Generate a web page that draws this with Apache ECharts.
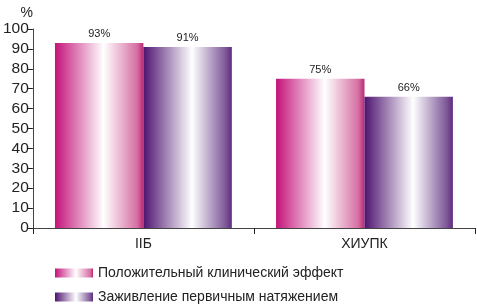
<!DOCTYPE html>
<html>
<head>
<meta charset="utf-8">
<script src="https://cdn.jsdelivr.net/npm/echarts@6/dist/echarts.min.js"></script>
<style>
  html, body { margin: 0; padding: 0; background: #fff; }
  #chart { width: 477px; height: 307px; }
</style>
</head>
<body>
<div id="chart"></div>
<script>
  // data
  var categories = ["ІІБ", "ХИУПК"];
  var seriesNames = ["Положительный клинический эффект", "Заживление первичным натяжением"];
  var clinical = [93, 75];
  var healing = [91, 66];

  var font = "Liberation Sans, Arial, sans-serif";

  function grad(left, mid, right, edge) {
    return new echarts.graphic.LinearGradient(0, 0, 1, 0, [
      { offset: 0, color: left },
      { offset: 0.55, color: mid },
      { offset: 0.93, color: right },
      { offset: 1, color: edge },
    ]);
  }

  function legendRow(name, top) {
    return {
      left: 55,
      top: top,
      icon: "rect",
      itemWidth: 38,
      itemHeight: 9,
      itemGap: 0,
      padding: 0,
      textStyle: { fontSize: 14, color: "#222", fontFamily: font },
      data: [name],
    };
  }

  var chart = echarts.init(document.getElementById("chart"));
  var option = {
    animation: false,
    textStyle: { fontFamily: font },
    grid: { left: 32, right: 2, top: 29, bottom: 79, containLabel: false },
    legend: [legendRow(seriesNames[0], 266), legendRow(seriesNames[1], 290)],
    xAxis: {
      type: "category",
      data: categories,
      axisLine: { lineStyle: { color: "#444", width: 1 } },
      axisTick: { show: true, length: 6, lineStyle: { color: "#222" } },
      axisLabel: { fontSize: 14, color: "#222", margin: 9 },
    },
    yAxis: {
      type: "value",
      min: 0,
      max: 100,
      interval: 10,
      name: "%",
      nameGap: 9,
      nameTextStyle: { fontSize: 14, color: "#222", align: "right", padding: [0, 0, 0, 0] },
      splitLine: { show: false },
      axisLine: { show: true, lineStyle: { color: "#444" } },
      axisTick: { show: true, length: 5, lineStyle: { color: "#222" } },
      axisLabel: { fontSize: 15.5, color: "#222", margin: 4 },
    },
    series: [
      {
        name: seriesNames[0],
        type: "bar",
        data: clinical,
        barWidth: "40%",
        barGap: "0%",
        itemStyle: { color: grad("#c4137a", "#ffffff", "#d66fa3", "#b72a72") },
        label: { show: true, position: "top", distance: 3, fontSize: 11, color: "#222", formatter: "{c}%" },
      },
      {
        name: seriesNames[1],
        type: "bar",
        data: healing,
        barWidth: "40%",
        itemStyle: { color: grad("#4e1470", "#ffffff", "#7d5898", "#5f2a80") },
        label: { show: true, position: "top", distance: 3, fontSize: 11, color: "#222", formatter: "{c}%" },
      },
    ],
  };
  chart.setOption(option);
</script>
</body>
</html>
